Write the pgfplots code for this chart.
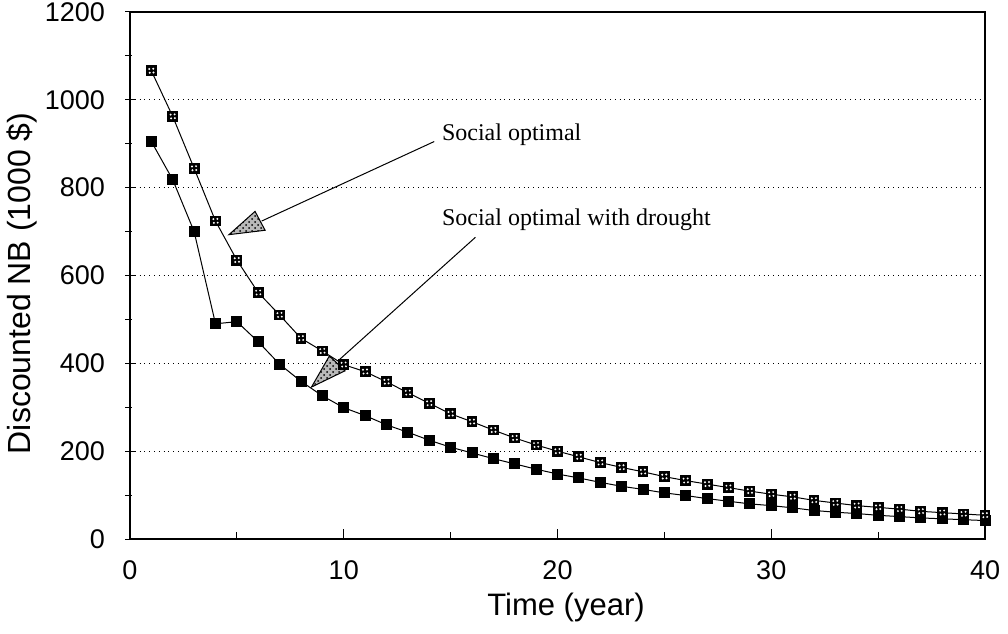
\documentclass[border=0pt]{standalone}
\usepackage{fontspec}
\setmainfont{Liberation Sans}
\newfontfamily\seriffont{Liberation Serif}
\usepackage{pgfplots}
\pgfplotsset{compat=1.18}
\usetikzlibrary{patterns}

\pgfdeclareplotmark{hsq}{%
  \pgfpathrectangle{\pgfpoint{-\pgfplotmarksize}{-\pgfplotmarksize}}{\pgfpoint{2\pgfplotmarksize}{2\pgfplotmarksize}}%
  \pgfsetfillcolor{black}\pgfusepath{fill}%
  \pgfsetfillcolor{white}%
  \pgfpathcircle{\pgfpoint{-0.4\pgfplotmarksize}{0.35\pgfplotmarksize}}{0.2\pgfplotmarksize}%
  \pgfpathcircle{\pgfpoint{0.35\pgfplotmarksize}{0.4\pgfplotmarksize}}{0.2\pgfplotmarksize}%
  \pgfpathcircle{\pgfpoint{-0.3\pgfplotmarksize}{-0.35\pgfplotmarksize}}{0.2\pgfplotmarksize}%
  \pgfpathcircle{\pgfpoint{0.4\pgfplotmarksize}{-0.3\pgfplotmarksize}}{0.2\pgfplotmarksize}%
  \pgfusepath{fill}%
}

\pgfplotstableread{
x y
1 1066
2 962
3 844
4 724
5 635
6 561
7 510
8 457
9 428
10 397
11 381
12 358
13 333
14 309
15 285
16 267
17 248
18 230
19 214
20 200
21 187
22 174
23 163
24 153
25 142
26 133
27 125
28 117
29 109
30 102
31 96
32 88
33 82
34 76
35 72
36 68
37 63
38 60
39 57
40 54
}\social

\pgfplotstableread{
x y
1 905
2 818
3 700
4 490
5 495
6 449
7 398
8 359
9 326
10 299
11 281
12 260
13 243
14 225
15 209
16 196
17 183
18 171
19 159
20 148
21 139
22 129
23 120
24 113
25 105
26 99
27 92
28 86
29 80
30 76
31 71
32 65
33 61
34 58
35 54
36 51
37 48
38 46
39 44
40 42
}\drought

\begin{document}
\begin{tikzpicture}
\begin{axis}[
  scale only axis, width=427.5pt, height=263.5pt,
  xmin=0, xmax=40, ymin=0, ymax=1200,
  xtick={0,10,...,40}, minor xtick={5,15,25,35},
  ytick={0,200,...,1200}, minor ytick={100,300,...,1100},
  xtick pos=bottom, ytick pos=left,
  ymajorgrids, major grid style={dotted, black, line width=0.5pt},
  tick align=inside, major tick length=5pt, minor tick length=3.5pt,
  every tick/.style={black, line width=0.5pt},
  ytick style={xshift=-2.5pt},
  axis line style={line width=0.6pt},
  ticklabel style={font=\fontsize{13.5}{16}\selectfont},
  /pgf/number format/assume math mode=true,
  scaled y ticks=false,
  yticklabel style={/pgf/number format/1000 sep={}, xshift=-9pt},
  xticklabel style={yshift=-7.5pt},
  xlabel={Time (year)}, ylabel={Discounted NB (1000 \$)},
  every axis x label/.style={at={(axis description cs:0.51,-0.129)}, anchor=center, font=\fontsize{15.5}{18}\selectfont},
  every axis y label/.style={at={(axis description cs:-0.1265,0.485)}, rotate=90, anchor=center, font=\fontsize{16}{19}\selectfont},
]
\addplot[black, line width=0.5pt, mark=square*, mark size=2.5pt, mark options={solid, fill=black}] table[x=x, y=y] {\drought};
\addplot[black, line width=0.5pt, mark=hsq, mark size=2.7pt] table[x=x, y=y] {\social};

\draw[line width=0.5pt] (axis cs:14.23,905) -- (axis cs:6.16,724);
\filldraw[line width=0.5pt, draw=black, fill=gray!55] (axis cs:4.63,693) -- (axis cs:5.85,746) -- (axis cs:6.32,703) -- cycle;
\fill[pattern=crosshatch dots, pattern color=black] (axis cs:4.63,693) -- (axis cs:5.85,746) -- (axis cs:6.32,703) -- cycle;
\draw[line width=0.5pt] (axis cs:16.16,687) -- (axis cs:9.74,406);
\filldraw[line width=0.5pt, draw=black, fill=gray!55] (axis cs:8.49,346) -- (axis cs:9.33,417) -- (axis cs:10.06,383) -- cycle;
\fill[pattern=crosshatch dots, pattern color=black] (axis cs:8.49,346) -- (axis cs:9.33,417) -- (axis cs:10.06,383) -- cycle;

\node[anchor=base west, inner sep=0, font=\seriffont\fontsize{12}{14}\selectfont] at (axis cs:14.58,907) {Social optimal};
\node[anchor=base west, inner sep=0, font=\seriffont\fontsize{12}{14}\selectfont] at (axis cs:14.58,715) {Social optimal with drought};
\end{axis}
\pgfresetboundingbox
\path[use as bounding box] ([xshift=-65pt,yshift=-47pt]current axis.south west) rectangle ([xshift=11.5pt,yshift=6pt]current axis.north east);
\end{tikzpicture}
\end{document}
